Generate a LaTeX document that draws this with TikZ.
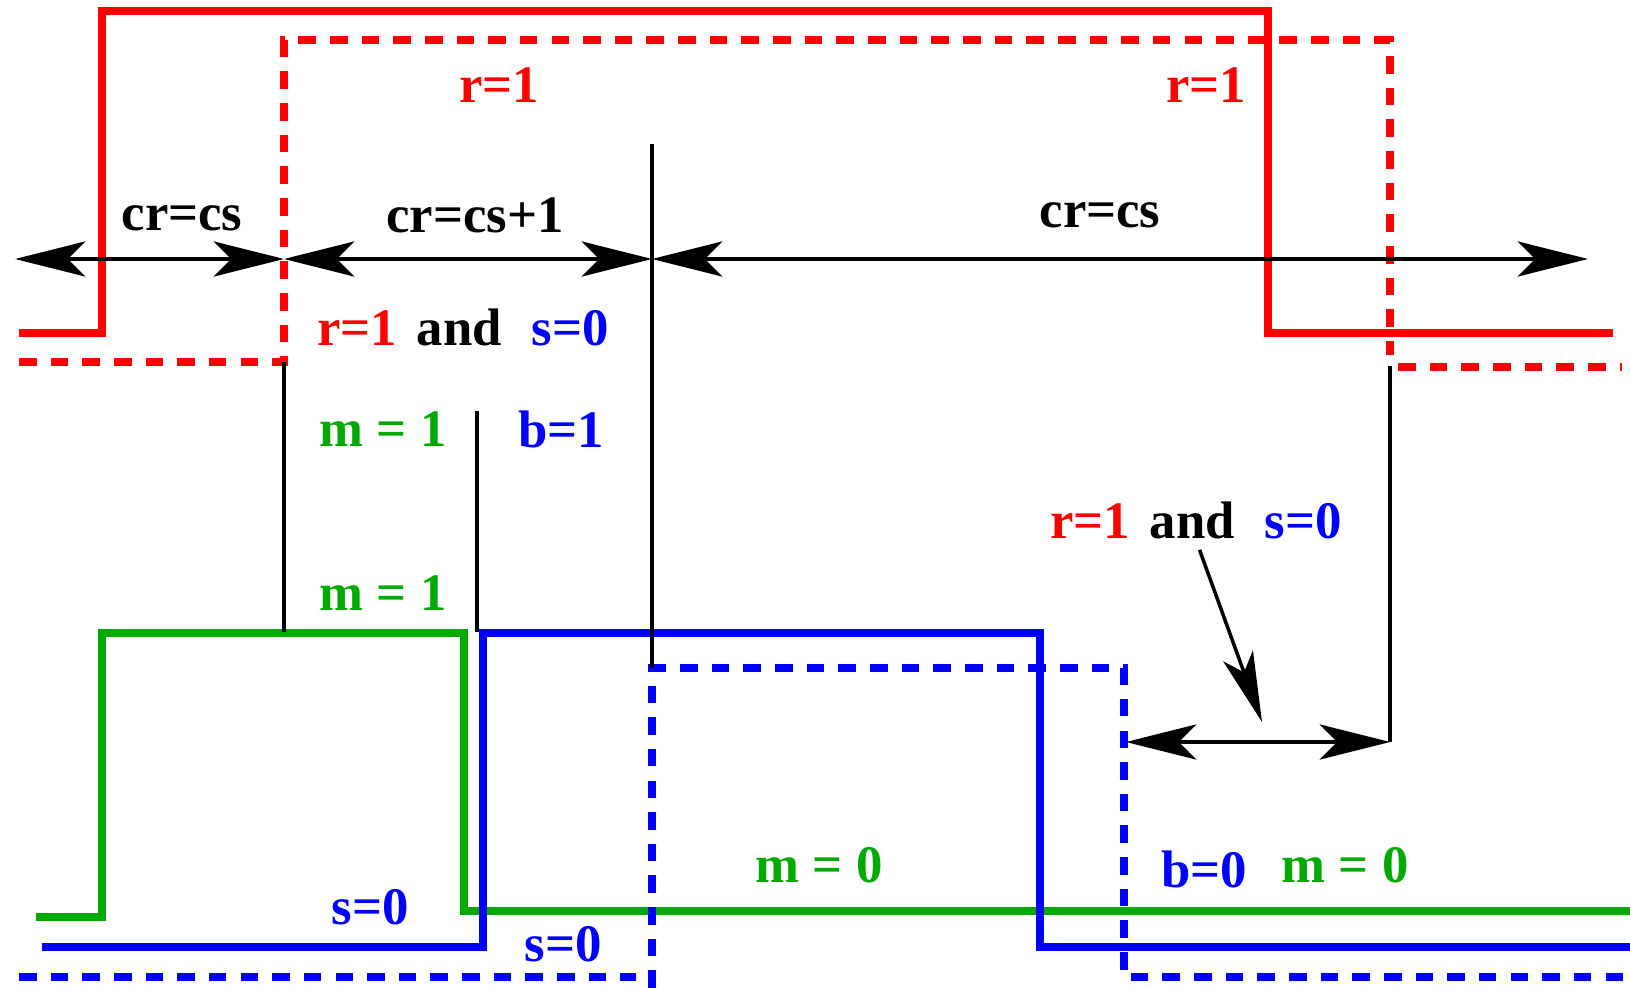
\documentclass[tikz,border=0pt]{standalone}
\usepackage{fontspec}
\setmainfont{Liberation Serif}
\usepackage{tikz}
\usetikzlibrary{
    arrows.meta,
    positioning
}
\definecolor{sigred}{RGB}{255,0,0}
\definecolor{siggreen}{RGB}{0,170,0}
\definecolor{sigblue}{RGB}{0,0,255}

\begin{document}
\begin{tikzpicture}[
            x=0.01cm, y=-0.01cm,
            wave/.style={line width=2.1pt, line join=miter},
            dwave/.style={line width=2.1pt, dash pattern=on 5pt off 4pt},
            vline/.style={line width=1pt},
            dblarr/.style={{Stealth[length=20pt, width=10pt, inset=5pt]}-{Stealth[length=20pt, width=10pt, inset=5pt]}, line width=1pt},
            arr/.style={-{Stealth[length=20pt, width=9pt, inset=5pt]}, line width=1pt},
            lbl/.style={font=\bfseries\fontsize{15}{18}\selectfont, inner sep=0pt},
        ]
            \useasboundingbox (0,0) rectangle (1630,988);

            % ====== Red signals ======
            \draw[wave, sigred]
                (19,333) -- (102,333) -- (102,11) -- (1268,11) -- (1268,333) -- (1613,333);
            \draw[dwave, sigred]
                (19,362) -- (284,362) -- (284,40) -- (1390,40) -- (1390,355);
            \draw[dwave, sigred]
                (1398,367) -- (1622,367);

            % ====== Green and blue signals ======
            \draw[wave, siggreen]
                (36,917) -- (102,917) -- (102,633) -- (464,633) -- (464,911) -- (1630,911);
            \draw[wave, sigblue]
                (42,947) -- (483,947) -- (483,633) -- (1040,633) -- (1040,947) -- (1630,947);
            \draw[dwave, sigblue]
                (19,977) -- (636,977);
            \draw[dwave, sigblue]
                (652,988) -- (652,668) -- (1124,668) -- (1124,977) -- (1630,977);

            % ====== Time marks ======
            \coordinate (t0) at (15,259);
            \coordinate (t1) at (284,259);
            \coordinate (t2) at (652,259);
            \coordinate (t3) at (1588,259);
            \coordinate (u0) at (1126,742);
            \coordinate (u1) at (1390,742);

            \draw[vline] (284,362) -- (284,632);
            \draw[vline] (477,411) -- (477,632);
            \draw[vline] (652,144) -- (652,668);
            \draw[vline] (1390,366) -- (u1);

            % ====== Arrows ======
            \draw[dblarr] (t0) -- (t1);
            \draw[dblarr] (t1) -- (t2);
            \draw[dblarr] (t2) -- (t3);
            \draw[dblarr] (u0) -- (u1);

            % ====== Labels ======
            \node[lbl, text=sigred] (rone) at (499,85) {r=1};
            \node[lbl, text=sigred] (rtwo) at (1206,85) {r=1};
            \node[lbl] (crcsa) at (182,218) {cr=cs};
            \node[lbl] (crcsb) at (475,215) {cr=cs+1};
            \node[lbl] (crcsc) at (1100,215) {cr=cs};
            \node[lbl] (andone) at (463,327)
                {\textcolor{sigred}{r=1}\hspace{0.2cm}and\hspace{0.3cm}\textcolor{sigblue}{s=0}};
            \node[lbl, text=siggreen] (mone) at (383,429) {m = 1};
            \node[lbl, text=sigblue] (bone) at (561,429) {b=1};
            \node[lbl, text=siggreen] (mtwo) at (383,593) {m = 1};
            \node[lbl] (andtwo) at (1196,520)
                {\textcolor{sigred}{r=1}\hspace{0.2cm}and\hspace{0.3cm}\textcolor{sigblue}{s=0}};
            \node[lbl, text=siggreen] (mzero) at (819,865) {m = 0};
            \node[lbl, text=sigblue] (bzero) at (1204,869) {b=0};
            \node[lbl, text=siggreen] (mzerob) at (1345,865) {m = 0};
            \node[lbl, text=sigblue] (szero) at (370,907) {s=0};
            \node[lbl, text=sigblue] (szerob) at (563,944) {s=0};

            \coordinate (ptr) at (1262,722);
            \draw[arr] ([xshift=1pt, yshift=-3pt]andtwo.south) -- (ptr);
        \end{tikzpicture}
\end{document}
